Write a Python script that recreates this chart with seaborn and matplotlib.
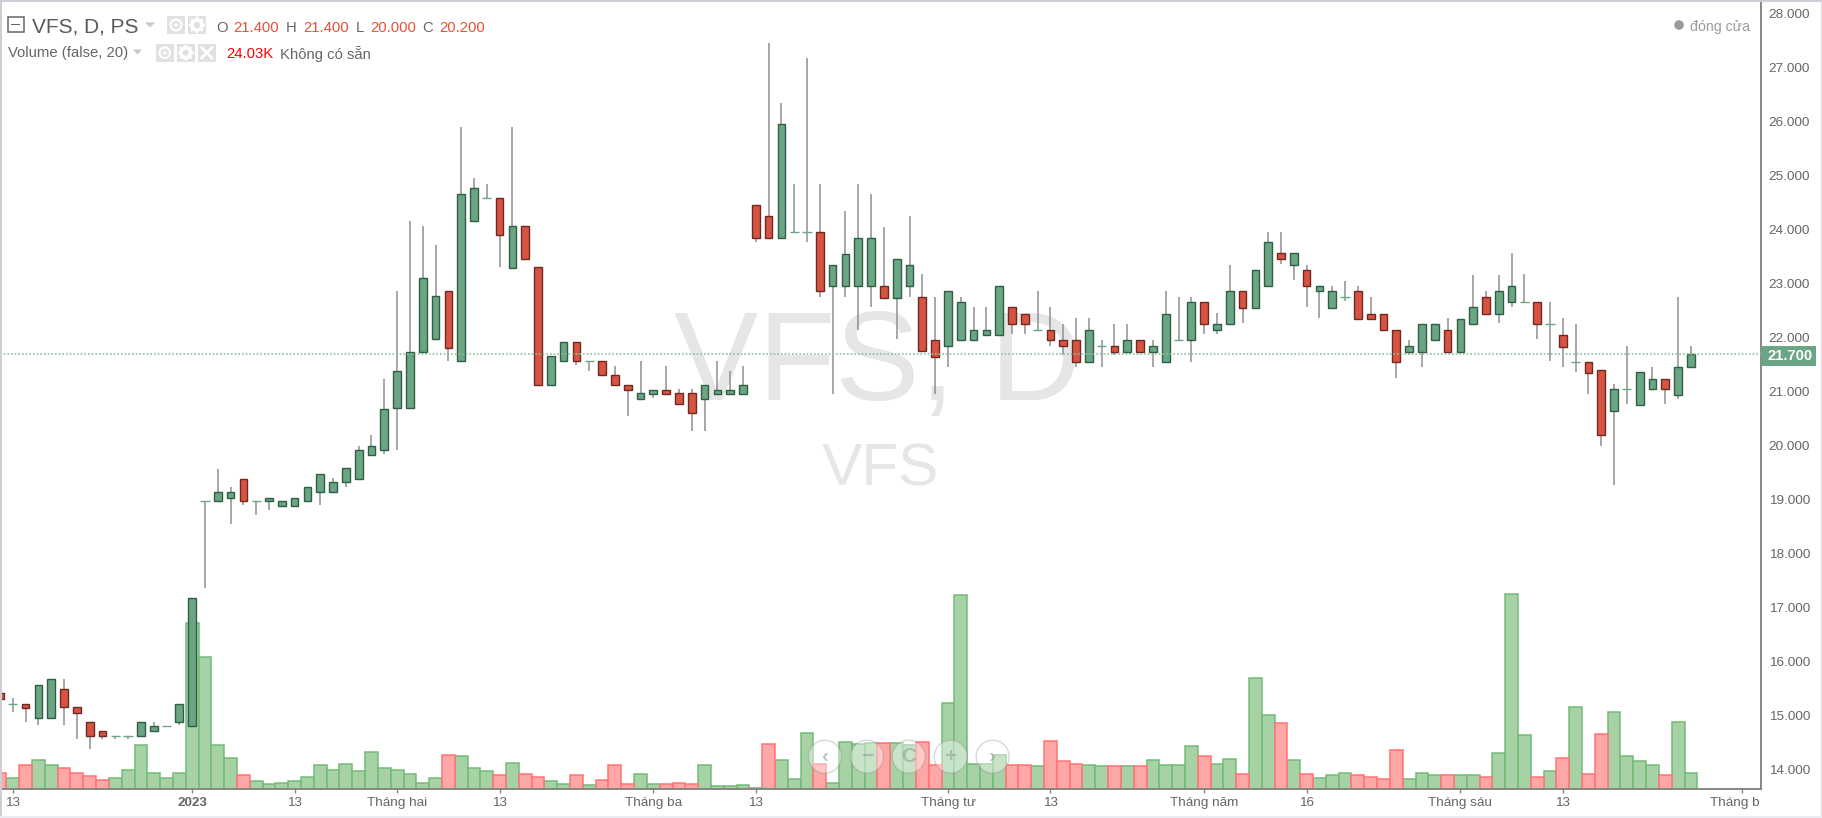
"""VFS daily candles with volume, drawn in the style of the trading widget."""

import matplotlib.pyplot as plt
import numpy as np
import pandas as pd
import seaborn as sns
from matplotlib.patches import Circle, Polygon, Rectangle
from matplotlib.transforms import Affine2D

WIDTH, HEIGHT = 1822, 818

opens = [
    15.42, 15.23, 15.23, 14.97, 14.97, 15.49, 15.17, 14.89, 14.73, 14.63, 14.63, 14.63, 14.72, 14.82, 14.88, 14.81,
    18.98, 18.97, 19.04, 19.39, 18.98, 18.97, 18.88, 18.88, 18.97, 19.14, 19.14, 19.32, 19.39, 19.82, 19.92, 20.69,
    20.69, 21.73, 21.98, 22.86, 21.57, 24.15, 24.59, 24.59, 23.29, 24.06, 23.30, 21.12, 21.57, 21.91, 21.57, 21.57,
    21.31, 21.12, 20.86, 20.95, 21.03, 20.97, 20.97, 20.86, 20.95, 20.95, 20.95, 24.45, 24.25, 23.85, 23.95, 23.95,
    23.95, 22.95, 22.95, 22.95, 22.95, 22.95, 22.74, 22.95, 22.75, 21.96, 21.84, 21.96, 21.96, 22.05, 22.05, 22.56,
    22.44, 22.14, 22.14, 21.96, 21.96, 21.54, 21.84, 21.84, 21.74, 21.96, 21.74, 21.54, 21.96, 21.96, 22.65, 22.14,
    22.25, 22.86, 22.55, 22.95, 23.56, 23.34, 23.25, 22.86, 22.55, 22.75, 22.86, 22.44, 22.44, 22.14, 21.74, 21.74,
    21.96, 22.14, 21.74, 22.25, 22.75, 22.44, 22.65, 22.65, 22.65, 22.26, 22.05, 21.54, 21.54, 21.40, 20.64, 21.05,
    20.75, 21.05, 21.24, 20.94, 21.45,
]
highs = [
    15.42, 15.33, 15.23, 15.57, 15.68, 15.68, 15.17, 14.89, 14.73, 14.63, 14.63, 14.89, 14.89, 14.82, 15.23, 17.19,
    18.98, 19.56, 19.24, 19.39, 18.98, 19.04, 18.98, 19.04, 19.23, 19.48, 19.40, 19.58, 19.99, 20.19, 21.23, 22.87,
    24.16, 24.06, 23.72, 22.86, 25.90, 24.95, 24.85, 24.59, 25.90, 24.06, 23.30, 21.66, 21.91, 21.91, 21.57, 21.57,
    21.48, 21.12, 21.57, 21.03, 21.48, 21.05, 21.05, 21.13, 21.57, 21.39, 21.48, 24.45, 27.46, 26.35, 24.85, 27.17,
    24.85, 23.34, 24.35, 24.85, 24.65, 24.05, 23.46, 24.25, 23.17, 22.75, 22.86, 22.75, 22.57, 22.57, 22.95, 22.56,
    22.44, 22.87, 22.57, 22.26, 22.36, 22.36, 21.96, 22.26, 22.26, 21.96, 21.96, 22.87, 22.75, 22.75, 22.65, 22.45,
    23.35, 22.86, 23.25, 23.95, 23.95, 23.56, 23.35, 22.95, 22.95, 23.05, 22.95, 22.75, 22.44, 22.14, 21.96, 22.26,
    22.26, 22.36, 22.35, 23.16, 22.87, 23.16, 23.56, 23.17, 22.65, 22.65, 22.36, 22.26, 21.54, 21.40, 21.15, 21.85,
    21.36, 21.46, 21.24, 22.75, 21.85,
]
lows = [
    15.32, 15.08, 14.89, 14.83, 14.97, 14.83, 14.57, 14.38, 14.58, 14.58, 14.58, 14.63, 14.72, 14.82, 14.83, 14.81,
    17.37, 18.97, 18.55, 18.90, 18.71, 18.81, 18.88, 18.88, 18.97, 18.90, 19.14, 19.24, 19.39, 19.82, 19.85, 19.92,
    20.69, 21.73, 21.98, 21.57, 21.57, 24.15, 24.59, 23.31, 23.29, 23.46, 21.12, 21.12, 21.57, 21.49, 21.39, 21.31,
    21.12, 20.55, 20.86, 20.89, 20.95, 20.77, 20.28, 20.28, 20.95, 20.95, 20.95, 23.77, 23.85, 23.85, 23.95, 23.77,
    22.76, 20.96, 22.76, 22.15, 22.57, 22.74, 21.97, 22.76, 21.75, 20.96, 21.46, 21.96, 21.96, 22.05, 22.05, 22.06,
    22.06, 22.14, 21.85, 21.68, 21.46, 21.54, 21.46, 21.68, 21.74, 21.74, 21.46, 21.54, 21.96, 21.55, 22.06, 22.06,
    22.25, 22.27, 22.55, 22.95, 23.36, 23.06, 22.57, 22.36, 22.55, 22.67, 22.35, 22.35, 22.14, 21.26, 21.68, 21.46,
    21.96, 21.74, 21.74, 22.25, 22.44, 22.27, 22.57, 22.65, 21.97, 21.56, 21.46, 21.37, 20.96, 20.00, 19.27, 20.77,
    20.75, 21.05, 20.77, 20.86, 21.45,
]
closes = [
    15.32, 15.23, 15.15, 15.57, 15.68, 15.16, 15.06, 14.63, 14.63, 14.63, 14.63, 14.89, 14.81, 14.82, 15.23, 17.19,
    18.98, 19.14, 19.14, 18.97, 18.98, 19.04, 18.98, 19.04, 19.23, 19.48, 19.32, 19.58, 19.92, 19.99, 20.68, 21.38,
    21.73, 23.11, 22.77, 21.81, 24.66, 24.76, 24.59, 23.90, 24.06, 23.46, 21.12, 21.66, 21.91, 21.57, 21.57, 21.31,
    21.12, 21.03, 20.97, 21.03, 20.95, 20.77, 20.61, 21.13, 21.03, 21.03, 21.13, 23.85, 23.85, 25.96, 23.95, 23.95,
    22.86, 23.34, 23.55, 23.85, 23.85, 22.74, 23.46, 23.34, 21.75, 21.65, 22.86, 22.65, 22.14, 22.14, 22.95, 22.25,
    22.25, 22.14, 21.96, 21.84, 21.54, 22.14, 21.84, 21.74, 21.96, 21.74, 21.84, 22.44, 21.96, 22.65, 22.25, 22.26,
    22.86, 22.55, 23.25, 23.76, 23.45, 23.56, 22.95, 22.95, 22.86, 22.75, 22.35, 22.35, 22.14, 21.54, 21.84, 22.26,
    22.26, 21.74, 22.35, 22.56, 22.44, 22.86, 22.95, 22.65, 22.26, 22.26, 21.83, 21.54, 21.35, 20.20, 21.05, 21.05,
    21.36, 21.24, 21.05, 21.45, 21.70,
]
volumes_k = [
    7.1, 4.8, 10.5, 12.7, 10.5, 9.3, 7.1, 5.5, 3.9, 4.8, 8.2, 19.1, 7.1, 4.8, 7.1, 72.7,
    57.8, 19.1, 13.7, 6.0, 3.4, 2.2, 2.8, 3.4, 5.4, 10.5, 8.2, 10.9, 7.7, 16.3, 9.3, 8.2,
    6.6, 2.8, 5.0, 14.9, 14.3, 9.3, 7.7, 6.1, 11.5, 6.6, 5.4, 3.4, 2.2, 6.1, 1.6, 3.9,
    10.5, 2.2, 6.6, 2.2, 2.2, 2.8, 2.2, 10.5, 1.2, 1.2, 1.7, 0.6, 19.7, 12.5, 4.4, 24.5,
    10.9, 2.8, 20.7, 19.7, 20.1, 20.1, 20.1, 19.4, 20.7, 10.5, 37.6, 84.8, 10.9, 10.9, 14.9, 10.5,
    10.5, 9.9, 20.8, 12.1, 10.9, 10.5, 9.9, 9.9, 9.9, 9.9, 12.7, 10.5, 10.5, 18.6, 14.3, 10.9,
    13.1, 6.6, 48.7, 32.2, 29.0, 12.7, 6.6, 4.8, 6.0, 7.1, 6.0, 5.4, 4.4, 16.9, 4.4, 7.1,
    6.0, 6.0, 6.0, 6.0, 5.4, 15.9, 85.2, 23.5, 5.4, 7.7, 13.7, 36.0, 6.6, 24.03, 33.8, 14.3,
    12.1, 10.5, 6.0, 29.4, 7.1,
]

time_tick_positions = [1, 15, 23, 31, 39, 51, 59, 74, 82, 94, 102, 114, 122, 136]
time_tick_labels = [
    "13", "2023", "13", "Tháng hai", "13", "Tháng ba", "13", "Tháng tư",
    "13", "Tháng năm", "16", "Tháng sáu", "13", "Tháng b",
]
price_ticks = list(range(14, 29))
last_price = 21.7

UP_FILL, UP_EDGE = "#6BA583", "#2F5F45"
DOWN_FILL, DOWN_EDGE = "#D75442", "#6E2A20"
WICK = "#8F8F91"
AXIS = "#868686"
TICK_TEXT = "#666666"
LABEL_RED = "#E8503A"

sns.set_theme(style="white")
plt.rcParams["font.family"] = ["Liberation Sans", "DejaVu Sans"]

df = pd.DataFrame(
    {"bar": np.arange(len(opens)), "open": opens, "high": highs, "low": lows, "close": closes, "volume": volumes_k}
)
df["direction"] = np.where(df["close"] >= df["open"], "up", "down")
up = df["direction"] == "up"
doji = df["close"] == df["open"]

fig = plt.figure(figsize=(WIDTH / 100, HEIGHT / 100), dpi=100, facecolor="white")
# artist coordinates in pixels from the top left corner
px = Affine2D().scale(1 / WIDTH, -1 / HEIGHT).translate(0, 1) + fig.transFigure

rect = [0, 1 - 789 / HEIGHT, 1761 / WIDTH, 787 / HEIGHT]
x_limits = (0, 137.47)

# Volume pane sits under the candles and shares the same bar slots
ax_vol = fig.add_axes(rect, zorder=1)
sns.barplot(
    data=df, x="bar", y="volume", hue="direction", hue_order=["up", "down"],
    palette={"up": "#A6D2A6", "down": "#FFA6A6"}, dodge=False, width=1.0,
    saturation=1, legend=False, ax=ax_vol,
)
for container, edge in zip(ax_vol.containers, ["#73BB76", "#FF7474"]):
    plt.setp(container, edgecolor=edge, linewidth=1.1)
ax_vol.set_xlim(x_limits)
ax_vol.set_ylim(0, 343.9)
ax_vol.axis("off")

ax = fig.add_axes(rect, zorder=2)
ax.patch.set_alpha(0)
ax.vlines(df["bar"], df["low"], df["high"], color=WICK, linewidth=1.1, zorder=2)
for mask, fill, edge in [(up & ~doji, UP_FILL, UP_EDGE), (~up, DOWN_FILL, DOWN_EDGE)]:
    part = df[mask]
    ax.bar(
        part["bar"], (part["close"] - part["open"]).abs(), bottom=part[["open", "close"]].min(axis=1),
        width=0.6, color=fill, edgecolor=edge, linewidth=1.0, zorder=3,
    )
ax.hlines(df.loc[doji, "close"], df.loc[doji, "bar"] - 0.36, df.loc[doji, "bar"] + 0.36,
          color=UP_FILL, linewidth=1.0, zorder=3)
ax.axhline(last_price, color="#8DBE9F", linewidth=1.2, linestyle=(0, (1, 1.2)), zorder=4)

ax.set_xlim(x_limits)
ax.set_ylim(13.648, 28.21)
ax.yaxis.tick_right()
ax.set_yticks(price_ticks, [f"{p:.3f}" for p in price_ticks])
ax.set_xticks(time_tick_positions, time_tick_labels)
ax.tick_params(axis="y", length=4, width=1, color=AXIS, labelcolor=TICK_TEXT, labelsize=9.7, pad=1.5, right=True)
ax.tick_params(axis="x", length=3, width=1, color=AXIS, labelcolor=TICK_TEXT, labelsize=9.7, pad=3, bottom=True)
ax.grid(False)
sns.despine(ax=ax, left=True, top=True, right=False)
for side in ["right", "bottom"]:
    ax.spines[side].set_color(AXIS)
    ax.spines[side].set_linewidth(1.4)
for label in ax.get_xticklabels():
    if label.get_text() == "2023":
        label.set_fontweight("bold")
    if label.get_text() == "Tháng b":
        label.set_ha("right")
        label.set_transform(label.get_transform() + Affine2D().translate(17, 0))


def add_text(x, y, text, color, size, weight="normal", ha="left", zorder=10):
    fig.text(x, y, text, color=color, fontsize=size, fontweight=weight, ha=ha, va="center_baseline",
             transform=px, zorder=zorder)


def add_rect(x0, y0, x1, y1, color, zorder=10, **kws):
    fig.add_artist(Rectangle((x0, y0), x1 - x0, y1 - y0, facecolor=color, edgecolor="none",
                             transform=px, zorder=zorder, **kws))


def add_caret(x0, x1, y):
    fig.add_artist(Polygon([(x0, y - 2.5), (x1, y - 2.5), ((x0 + x1) / 2, y + 2.5)], facecolor="#C9C9C9",
                           edgecolor="none", transform=px, zorder=10))


def add_button(x0, y0, size, kind):
    add_rect(x0, y0, x0 + size, y0 + size, "#E1E1E1")
    cx, cy = x0 + size / 2, y0 + size / 2
    if kind == "eye":
        fig.add_artist(Circle((cx, cy), size * 0.3, facecolor="none", edgecolor="white", linewidth=1.6,
                              transform=px, zorder=11))
        fig.add_artist(Circle((cx, cy), size * 0.1, facecolor="white", edgecolor="none", transform=px, zorder=11))
    elif kind == "gear":
        fig.add_artist(Circle((cx, cy), size * 0.28, facecolor="none", edgecolor="white", linewidth=2.6,
                              transform=px, zorder=11))
        for angle in np.arange(0, 360, 45):
            tip = np.array([np.cos(np.radians(angle)), np.sin(np.radians(angle))]) * size * 0.39
            fig.add_artist(Circle((cx + tip[0], cy + tip[1]), 1.3, facecolor="white", edgecolor="none",
                                  transform=px, zorder=11))
    else:
        off = size * 0.3
        for sign in (-1, 1):
            fig.add_artist(plt.Line2D([cx - off, cx + off], [cy - sign * off, cy + sign * off], color="white",
                                      linewidth=2, transform=px, zorder=11))


# Watermarks sit behind both panes
add_text(877.5, 354, "VFS, D", "#E6E6E6", 91, ha="center", zorder=0)
add_text(880, 464.5, "VFS", "#E6E6E6", 43.5, ha="center", zorder=0)

# Frame of the widget
add_rect(0, 0, WIDTH, 2, "#CDCDD6")
add_rect(0, 0, 1.5, 816, "#CDCDD6")
add_rect(1820.5, 0, WIDTH, 816, "#DCDCE2")
add_rect(0, 815.5, WIDTH, HEIGHT, "#E9EDF3")

# Legend header, first line
fig.add_artist(Rectangle((7.5, 16.5), 16, 15.5, facecolor="white", edgecolor="#666666", linewidth=1.1,
                         transform=px, zorder=10))
add_rect(11, 23.6, 20, 25, "#666666", zorder=11)
add_text(31.5, 25, "VFS, D, PS", "#5A5A5A", 15)
add_caret(145, 155, 25)
add_button(167, 16, 18, "eye")
add_button(188, 16, 18, "gear")
for x, text in [(216, "O"), (286, "H"), (355.5, "L"), (422, "C")]:
    add_text(x, 26, text, "#666666", 10.7)
for x, text in [(233.5, "21.400"), (303, "21.400"), (370, "20.000"), (439, "20.200")]:
    add_text(x, 26, text, LABEL_RED, 10.7)

# Legend header, second line
add_text(7.5, 52, "Volume (false, 20)", "#666666", 10.7)
add_caret(133, 142, 52)
add_button(156, 44, 17.5, "eye")
add_button(177, 44, 17.5, "gear")
add_button(198, 44, 17.5, "close")
add_text(226, 53, "24.03K", "#FF0000", 10.7)
add_text(280, 53, "Không có sẵn", "#666666", 10.7)

fig.add_artist(Circle((1679, 25), 4.8, facecolor="#9B9B9B", edgecolor="none", transform=px, zorder=10))
add_text(1690, 25, "đóng cửa", "#9B9B9B", 10.2)

# Last price tag on the price scale
add_rect(1761, 346, 1816, 365.5, UP_FILL)
add_text(1768, 355, "21.700", "white", 10.6, weight="bold", zorder=11)

# Navigation buttons over the volume pane
for cx, icon in zip([825, 867, 908.7, 950.7, 992.7], ["‹", "−", "C", "+", "›"]):
    fig.add_artist(Circle((cx, 756.7), 16.5, facecolor=(1, 1, 1, 0.4), edgecolor=(0.55, 0.55, 0.55, 0.35),
                          linewidth=1, transform=px, zorder=10))
    fig.text(cx, 756.7, icon, color="#8F9A8F", fontsize=15, fontweight="bold", ha="center", va="center",
             alpha=0.55, transform=px, zorder=11)

fig.savefig("out.png", dpi=100)
plt.close(fig)
